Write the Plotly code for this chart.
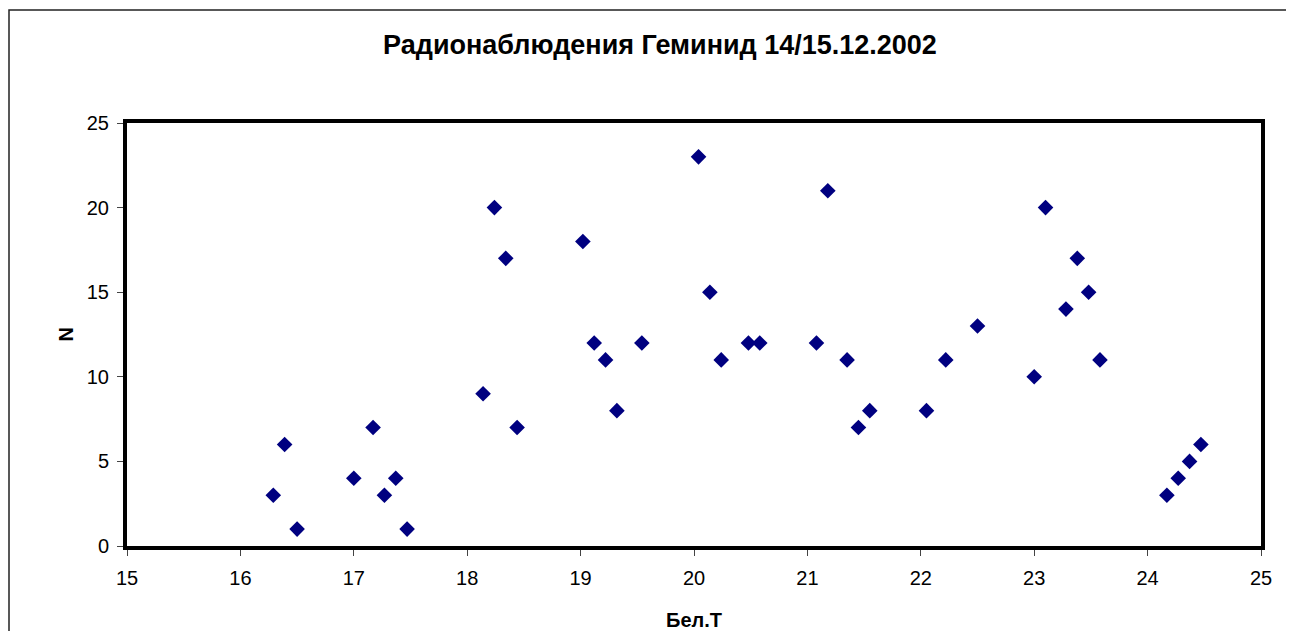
"""Geminids radio observations scatter, 14/15.12.2002."""

import plotly.graph_objects as go

# observation time (Бел.Т, hours) and meteor counts N
TIME_H = [
    16.29, 16.39, 16.50, 17.00, 17.17, 17.27, 17.37, 17.47,
    18.14, 18.24, 18.34, 18.44, 19.02, 19.12, 19.22, 19.32,
    19.54, 20.04, 20.14, 20.24, 20.48, 20.58, 21.08, 21.18,
    21.35, 21.45, 21.55, 22.05, 22.22, 22.50, 23.00, 23.10,
    23.28, 23.38, 23.48, 23.58, 24.17, 24.27, 24.37, 24.47,
]
COUNTS = [
    3, 6, 1, 4, 7, 3, 4, 1,
    9, 20, 17, 7, 18, 12, 11, 8,
    12, 23, 15, 11, 12, 12, 12, 21,
    11, 7, 8, 8, 11, 13, 10, 20,
    14, 17, 15, 11, 3, 4, 5, 6,
]
X_TICKS = list(range(15, 26))
Y_TICKS = [0, 5, 10, 15, 20, 25]

TITLE = "Радионаблюдения Геминид 14/15.12.2002"
X_TITLE = "Бел.Т"
Y_TITLE = "N"
FONT = "Liberation Sans, Arial, sans-serif"

# the page body adds an 8px offset, so the figure is sized to fit after it
W, H = 1286, 623
M_L, M_R, M_T, M_B = 119, 33, 115, 85


def main() -> None:
    figure = go.Figure()
    figure.add_trace(
        go.Scatter(
            x=TIME_H,
            y=COUNTS,
            mode="markers",
            marker={"symbol": "diamond", "size": 12, "color": "#000080"},
            showlegend=False,
            cliponaxis=False,
        )
    )

    plot_w = W - M_L - M_R
    plot_h = H - M_T - M_B
    # thin outer chart border (runs off the right and bottom edges)
    figure.add_shape(
        type="rect",
        xref="paper",
        yref="paper",
        x0=(1 - M_L) / plot_w,
        x1=(W + 20 - M_L) / plot_w,
        y0=-(M_B + 20) / plot_h,
        y1=(H - M_B - 2) / plot_h,
        line={"color": "#222", "width": 1.5},
        layer="below",
    )

    title_font = {"family": FONT, "size": 20, "color": "black"}
    # axis titles as annotations so they do not push the margins
    figure.add_annotation(
        text=f"<b>{X_TITLE}</b>",
        xref="paper",
        yref="paper",
        x=0.5,
        y=-74 / plot_h,
        xanchor="center",
        yanchor="middle",
        showarrow=False,
        font=title_font,
    )
    figure.add_annotation(
        text=f"<b>{Y_TITLE}</b>",
        xref="paper",
        yref="paper",
        x=(57 - M_L) / plot_w,
        y=0.5,
        xanchor="center",
        yanchor="middle",
        textangle=-90,
        showarrow=False,
        font=title_font,
    )

    axis_common = {
        "showline": True,
        "linecolor": "black",
        "linewidth": 4,
        "mirror": True,
        "showgrid": False,
        "zeroline": False,
        "automargin": False,
        "ticks": "outside",
        "ticklen": 6,
        "tickwidth": 1,
        "tickcolor": "#444",
        "tickfont": {"family": FONT, "size": 20, "color": "black"},
    }

    figure.update_layout(
        width=W,
        height=H,
        paper_bgcolor="white",
        plot_bgcolor="white",
        margin={"l": M_L, "r": M_R, "t": M_T, "b": M_B},
        title={
            "text": f"<b>{TITLE}</b>",
            "x": 652 / W,
            "xanchor": "center",
            "y": 1 - 37 / H,
            "yanchor": "middle",
            "font": {"family": FONT, "size": 27, "color": "black"},
        },
        xaxis={
            **axis_common,
            "range": [15, 25],
            "tickvals": X_TICKS,
            "ticklabelstandoff": 5,
        },
        yaxis={
            **axis_common,
            "range": [0, 25],
            "tickvals": Y_TICKS,
            "ticklabelstandoff": 4,
        },
    )
    figure.write_html("out.html")


if __name__ == "__main__":
    main()
